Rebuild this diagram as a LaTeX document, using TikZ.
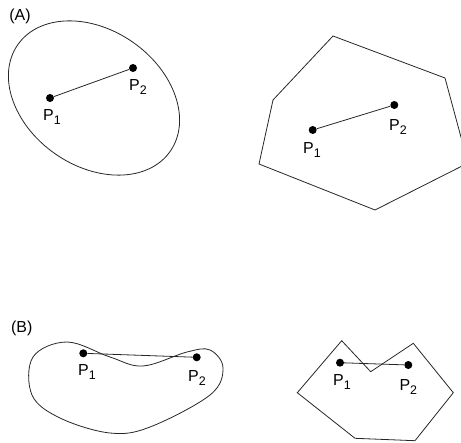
\documentclass[tikz,border=0pt]{standalone}
\usepackage{fontspec}
\setmainfont{Liberation Sans}
\newcommand{\lbsub}[1]{\raisebox{-3.2bp}{\fontsize{12.5}{13}\selectfont #1}}
\tikzset{
  outline/.style={draw=black!85, line width=0.8bp},
  seg/.style={draw=black!85, line width=0.8bp},
  pdot/.style={circle, fill=black, inner sep=0pt, minimum size=8bp},
  plabel/.style={inner sep=0pt, font=\fontsize{16}{18}\selectfont},
  panel/.style={inner sep=0pt, font=\fontsize{16}{18}\selectfont}
}
\begin{document}
\begin{tikzpicture}[x=1bp,y=-1bp]
\useasboundingbox (0,0) rectangle (461,443);
\clip (0,0) rectangle (461,443);
% Panel A
\node[panel] (labA) at (20,16) {(A)};
\draw[outline, rotate around={-35:(94,98)}] (94,98) ellipse [x radius=93, y radius=68];
\node[pdot] (a1) at (50,98) {};
\node[pdot] (a2) at (133,68) {};
\draw[seg] (a1) -- (a2);
\node[plabel] (a1l) at (52,117) {P\lbsub{1}};
\node[plabel] (a2l) at (138,87) {P\lbsub{2}};
\draw[outline] (333,36) -- (445,78) -- (468,163) -- (375,210) -- (259,164) -- (273,100) -- cycle;
\node[pdot] (b1) at (312.7,130) {};
\node[pdot] (b2) at (394.3,105) {};
\draw[seg] (b1) -- (b2);
\node[plabel] (b1l) at (312,150) {P\lbsub{1}};
\node[plabel] (b2l) at (398,127) {P\lbsub{2}};
% Panel B
\node[panel] (labB) at (21.7,328) {(B)};
\draw[outline] plot[smooth cycle, tension=0.6] coordinates {(33,357) (67,342) (110,357) (143,366) (187,352) (210,350) (223,368) (210,395) (150,427) (110,433) (60,418) (32,395)};
\node[pdot] (c1) at (83.3,353.3) {};
\node[pdot] (c2) at (196.7,357.3) {};
\draw[seg] (c1) -- (c2);
\node[plabel] (c1l) at (87,372) {P\lbsub{1}};
\node[plabel] (c2l) at (197,378) {P\lbsub{2}};
\draw[outline] (341.7,340.7) -- (370.7,371.7) -- (413.3,343.3) -- (453.3,392.7) -- (415,440.7) -- (355,438.3) -- (297.3,392.7) -- cycle;
\node[pdot] (d1) at (340,362.7) {};
\node[pdot] (d2) at (408.3,365) {};
\draw[seg] (d1) -- (d2);
\node[plabel] (d1l) at (342,382) {P\lbsub{1}};
\node[plabel] (d2l) at (408.3,387) {P\lbsub{2}};
\end{tikzpicture}
\end{document}
